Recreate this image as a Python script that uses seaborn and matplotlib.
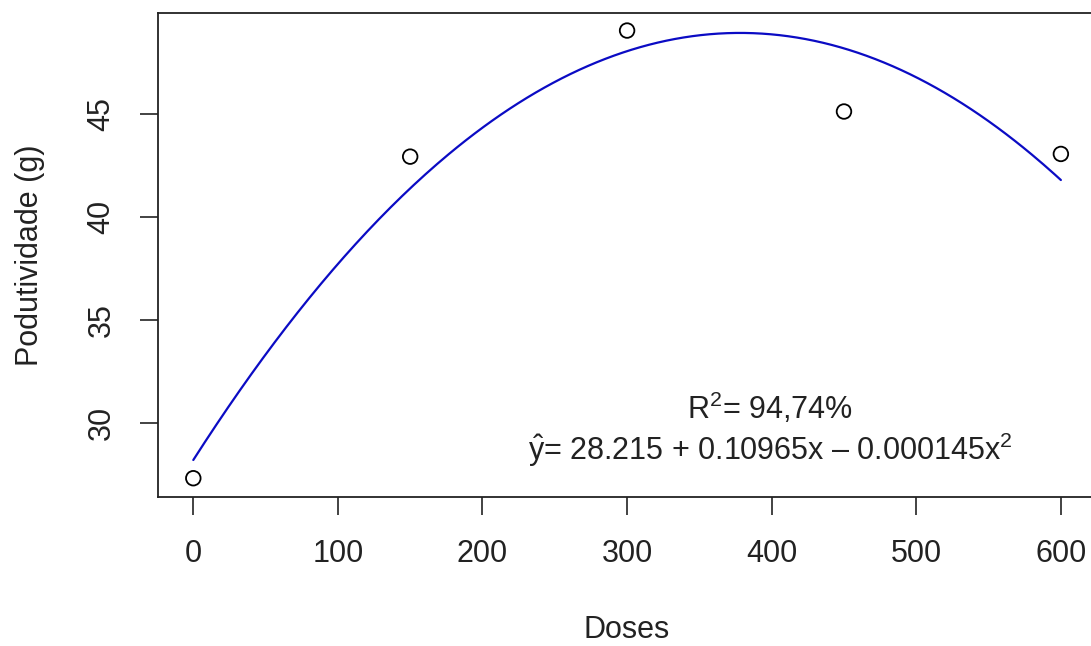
import numpy as np
import pandas as pd
import matplotlib
matplotlib.use("Agg")
import matplotlib.pyplot as plt
import seaborn as sns

# observed data
doses = [0, 150, 300, 450, 600]
produtividade = [27.33, 42.94, 49.06, 45.13, 43.07]

# fitted quadratic (coefficients as printed on the chart)
b0, b1, b2 = 28.215, 0.10965, -0.000145
r2_text = "R$^2$= 94,74%"
eq_text = r"$\hat{\mathrm{y}}$= 28.215 + 0.10965x – 0.000145x$^2$"

x_ticks = [0, 100, 200, 300, 400, 500, 600]
y_ticks = [30, 35, 40, 45]

sns.set_style("ticks")
plt.rcParams["font.family"] = ["Liberation Sans", "DejaVu Sans"]
plt.rcParams["mathtext.fontset"] = "custom"
plt.rcParams["mathtext.rm"] = "Liberation Sans"
plt.rcParams["mathtext.it"] = "Liberation Sans"

pts = pd.DataFrame({"dose": doses, "prod": produtividade})
xs = np.linspace(0, 600, 300)
fit = pd.DataFrame({"dose": xs, "prod": b0 + b1 * xs + b2 * xs ** 2})

fig = plt.figure(figsize=(10.91, 6.46), dpi=100)
ax = fig.add_axes([0.1451, 0.2307, 0.8591, 0.7488])

sns.lineplot(data=fit, x="dose", y="prod", ax=ax, color="#0b0bc4", linewidth=1.6)
sns.scatterplot(data=pts, x="dose", y="prod", ax=ax, s=110, marker="o",
                facecolor="none", edgecolor="black", linewidth=1.3, zorder=3)

ax.set_xlim(-24.2, 624)
ax.set_ylim(26.42, 49.90)
ax.set_xticks(x_ticks)
ax.set_yticks(y_ticks)
ax.tick_params(axis="both", labelsize=22, length=13, width=1.2, color="#222222",
               labelcolor="#222222")
ax.tick_params(axis="x", pad=17)
ax.tick_params(axis="y", pad=17)
for lab in ax.get_yticklabels():
    lab.set_rotation(90)
    lab.set_va("center")

for s in ["left", "top", "bottom"]:
    ax.spines[s].set_linewidth(1.3)
    ax.spines[s].set_color("#222222")
ax.spines["right"].set_visible(False)

ax.set_xlabel("Doses", fontsize=22, color="#222222")
ax.set_ylabel("Podutividade (g)", fontsize=22, color="#222222")
ax.xaxis.set_label_coords(0.5, -0.275)
ax.xaxis.label.set_va("center")
ax.yaxis.set_label_coords(-0.137, 0.5)
ax.yaxis.label.set_va("center")

ax.text(399, 30.74, r2_text, fontsize=22, ha="center", va="center", color="#222222")
ax.text(399, 28.70, eq_text, fontsize=22, ha="center", va="center", color="#222222")

fig.savefig("out.png", dpi=100)
